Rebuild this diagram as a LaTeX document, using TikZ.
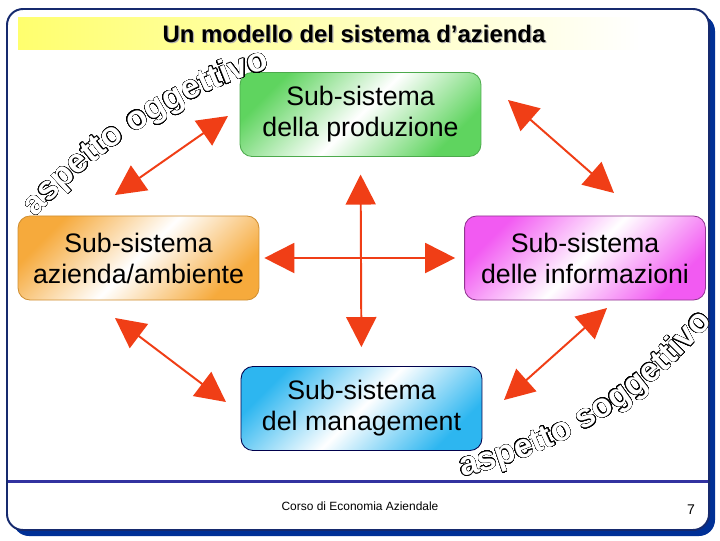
\documentclass[tikz,border=0pt]{standalone}
\usepackage{fontspec}
\setmainfont{Liberation Sans}
\usepackage{contour}
\usetikzlibrary{arrows.meta}

\definecolor{linkred}{RGB}{240,62,22}
\definecolor{framenavy}{RGB}{22,42,110}
\definecolor{framedeep}{RGB}{0,48,150}
\definecolor{framerule}{RGB}{50,50,160}
\definecolor{titleyellow}{RGB}{255,255,110}
\definecolor{prodgreen}{RGB}{95,212,95}
\definecolor{ambornage}{RGB}{246,170,60}
\definecolor{infmagenta}{RGB}{242,90,242}
\definecolor{mgmtcyan}{RGB}{45,182,240}

\newcommand\boxfont{\fontsize{19}{22}\selectfont}
\newcommand\wmfont{\fontsize{24}{24}\selectfont\bfseries}
\newcommand\outl[1]{\textcolor{white}{\contour{black}{#1}}}
\contourlength{0.32pt}
\contournumber{32}

% letters one by one along a circle:
% centre, baseline radius (px), middle angle, sense, total width (em), letter/width list
\newcommand\arcword[6]{%
  \pgfmathsetmacro\wmstart{#3-(#4)*0.5*(#5)*24/((#2)*0.71132)*57.29578}%
  \xdef\wmacc{0}%
  \foreach \ch/\chw in {#6}{%
    \pgfmathsetmacro\wmang{\wmstart+(#4)*(\wmacc+0.5*\chw)*24/((#2)*0.71132)*57.29578}%
    \pgfmathsetmacro\wmrot{-(\wmang)-(#4)*90}%
    \path (#1) ++(\wmang:#2) node[anchor=base, rotate=\wmrot, inner sep=0pt] {\wmfont\outl{\ch}};
    \pgfmathsetmacro\wmnext{\wmacc+\chw}%
    \xdef\wmacc{\wmnext}%
  }%
}

\tikzset{
  subsys/.style={rounded corners=0.3cm, minimum width=6.02cm, minimum height=2.1cm,
    inner sep=0pt, align=center, font=\boxfont, line width=0.6pt},
  tinted/.style 2 args={top color=#1, bottom color=#1, middle color=white,
    shading angle=45, draw=#2},
  link/.style={draw=linkred, line width=1.4pt,
    {Triangle[length=0.75cm, width=0.75cm]}-{Triangle[length=0.75cm, width=0.75cm]}},
}

\begin{document}
\begin{tikzpicture}[x=0.025cm, y=-0.025cm]
  \useasboundingbox (0,0) rectangle (720,540);

  % slide frame
  \fill[framedeep, rounded corners=0.4cm] (13,15) rectangle (715,536);
  \filldraw[fill=white, draw=framenavy, line width=1.4pt, rounded corners=0.4cm] (7,9) rectangle (709,530);
  \draw[framerule, line width=1.6pt] (8,481.5) -- (708,481.5);

  % title
  \fill[left color=titleyellow, right color=white] (18,17) rectangle (640,49);
  \node[font=\fontsize{17}{17}\selectfont\bfseries, text=black!30] at (355.2,35.2) {Un modello del sistema d’azienda};
  \node[font=\fontsize{17}{17}\selectfont\bfseries] (title) at (354,34) {Un modello del sistema d’azienda};

  % sub-systems
  \node[subsys, tinted={prodgreen}{prodgreen!80!black}] (prod) at (360.5,114.5) {Sub-sistema\\della produzione};
  \node[subsys, tinted={ambornage}{ambornage!85!black}] (amb) at (138.5,258) {Sub-sistema\\azienda/ambiente};
  \node[subsys, tinted={infmagenta}{infmagenta!60!black}] (inf) at (585,258) {Sub-sistema\\delle informazioni};
  \node[subsys, tinted={mgmtcyan}{black!70!blue}] (mgmt) at (361.5,408.5) {Sub-sistema\\del management};

  % cross in the middle
  \draw[link, shorten <=0.44cm, shorten >=0.475cm] (prod.south) -- (mgmt.north);
  \draw[link, shorten <=0.125cm, shorten >=0.225cm] (amb.east) -- (inf.west);

  % diagonal links
  \coordinate (tlA) at (115,195);
  \coordinate (tlB) at (228,116);
  \coordinate (trA) at (508,100);
  \coordinate (trB) at (614,193);
  \coordinate (blA) at (115,318);
  \coordinate (blB) at (226,402);
  \coordinate (brA) at (607,308);
  \coordinate (brB) at (504,400);
  \draw[link] (tlA) -- (tlB);
  \draw[link] (trA) -- (trB);
  \draw[link] (blA) -- (blB);
  \draw[link] (brA) -- (brB);

  % outlined captions along arcs
  \coordinate (objc) at (418,561);
  \coordinate (subjc) at (366,42);
  \arcword{objc}{514}{-122.4}{1}{8.334}{a/.556,s/.556,p/.611,e/.556,t/.333,t/.333,o/.611,~/.278,o/.611,g/.611,g/.611,e/.556,t/.333,t/.333,i/.278,v/.556,o/.611}
  \arcword{subjc}{445}{58.2}{-1}{8.89}{a/.556,s/.556,p/.611,e/.556,t/.333,t/.333,o/.611,~/.278,s/.556,o/.611,g/.611,g/.611,e/.556,t/.333,t/.333,i/.278,v/.556,o/.611}

  % footer
  \node[font=\fontsize{8.5}{10}\selectfont] (course) at (360,506) {Corso di Economia Aziendale};
  \node[font=\fontsize{10}{12}\selectfont] (page) at (691,510) {7};
\end{tikzpicture}
\end{document}
